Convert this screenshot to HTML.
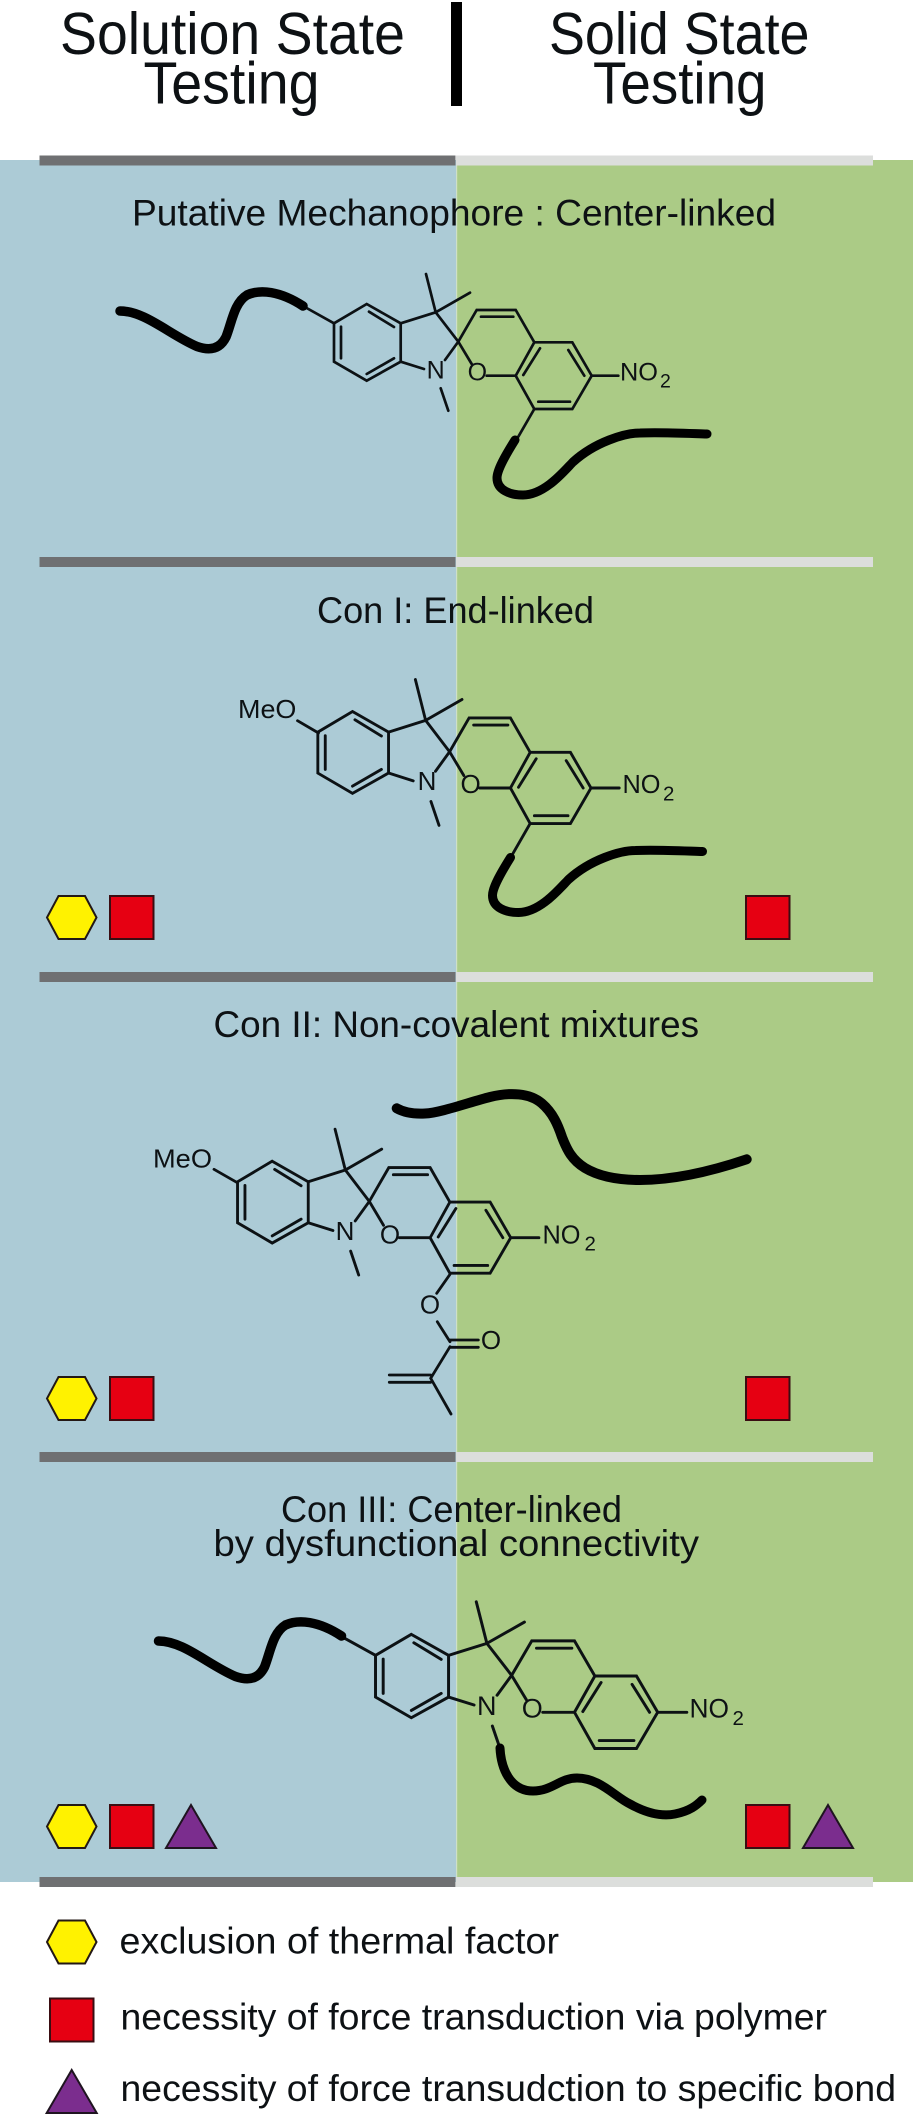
<!DOCTYPE html>
<html>
<head>
<meta charset="utf-8">
<style>
html,body{margin:0;padding:0;background:#fff}
svg{display:block}
text{font-family:"Liberation Sans",sans-serif;fill:#0d1114}
.t{font-size:59px}
.s{font-size:37px}
.a{font-size:25px}
.a2{font-size:26px}
.a3{font-size:27px}
.b{font-size:19.5px}
.b2{font-size:20.5px}
</style>
</head>
<body>
<svg width="913" height="2116" viewBox="0 0 913 2116" xmlns="http://www.w3.org/2000/svg">
<defs>
<g id="core" fill="none" stroke="#0c1114" stroke-width="2.7" stroke-linecap="round" stroke-linejoin="miter">
<path d="M366.7,304 L400.7,323.3 L400.7,361.7 L366.7,380.7 L334,361.7 L334,323.3 Z"/>
<path d="M369,311.7 L394,327 M394,358.3 L366.7,374 M341,326.7 L341,358.3"/>
<path d="M400.7,323.3 L435.7,312.3 L426,274 M435.7,312.3 L470,292.7 M435.7,312.3 L458.3,341.7 L445,360 M400.7,361.7 L424,369"/>
<path d="M458.3,341.7 L471.7,364 M458.3,341.7 L476.7,310 L515.7,310 L534.3,342.3 L572.3,342.3 L591.7,375.7 L572.3,409 L534.3,409 L515.7,375.7 L534.3,342.3"/>
<path d="M481,316.7 L513.3,316.7 M523.3,375 L540,348.3 M568.3,350 L584.3,375.7 M538.3,401.7 L570,401.7"/>
<path d="M486.7,375.7 L515.7,375.7 M591.7,375.7 L618.3,375.7 M440.7,388.3 L448.3,410.7"/>
</g>
<path id="bot" d="M534.3,409 L518.3,436.7" fill="none" stroke="#0c1114" stroke-width="2.7" stroke-linecap="round"/>
<path id="lef" d="M334,323.3 L303,306" fill="none" stroke="#0c1114" stroke-width="2.7" stroke-linecap="round"/>
<path id="p1" d="M120,311 C145,311 170,335 197,346.5 C210,351 220,349 226,337 C232,322 234,303 247,295 C260,289 280,291 303,306" fill="none" stroke="#000" stroke-width="9.5" stroke-linecap="round"/>
<path id="p2" d="M515,440 C505,456 497,470 497,478 C497,490 510,495 523,495 C545,495 565,470 573,462 C595,442 625,433 640,433 C660,432 690,433.5 707,434" fill="none" stroke="#000" stroke-width="9" stroke-linecap="round"/>
<polygon id="hex" points="47,21.5 58.5,0 85,0 96.5,21.5 85,43 58.5,43" fill="#fff200" stroke="#231815" stroke-width="2"/>
<rect id="sq" x="0" y="0" width="43.5" height="43" fill="#e60012" stroke="#3a0d12" stroke-width="2"/>
<polygon id="tri" points="25,0 50,43 0,43" fill="#7b2d8e" stroke="#1f1420" stroke-width="2"/>
</defs>

<rect x="0" y="160" width="456" height="1722" fill="#accbd6"/>
<rect x="456" y="160" width="457" height="1722" fill="#abcb86"/>
<rect x="456" y="160" width="1.2" height="1722" fill="#cfe0c8"/>

<rect x="451" y="2" width="11" height="104" fill="#000"/>

<g fill="#6f7072">
<rect x="39.5" y="155.5" width="416" height="10"/>
<rect x="39.5" y="557" width="416" height="10"/>
<rect x="39.5" y="972" width="416" height="10"/>
<rect x="39.5" y="1452" width="416" height="10"/>
<rect x="39.5" y="1877" width="416" height="10"/>
</g>
<g fill="#dcdedc">
<rect x="456" y="155.5" width="417" height="10"/>
<rect x="456" y="557" width="417" height="10"/>
<rect x="456" y="972" width="417" height="10"/>
<rect x="456" y="1452" width="417" height="10"/>
<rect x="456" y="1877" width="417" height="10"/>
</g>

<text class="t" x="60" y="54" textLength="345" lengthAdjust="spacingAndGlyphs">Solution State</text>
<text class="t" x="143.5" y="103.5" textLength="176" lengthAdjust="spacingAndGlyphs">Testing</text>
<text class="t" x="549" y="54" textLength="260.5" lengthAdjust="spacingAndGlyphs">Solid State</text>
<text class="t" x="593" y="103.5" textLength="173.5" lengthAdjust="spacingAndGlyphs">Testing</text>

<text class="s" x="132" y="225.5" textLength="644" lengthAdjust="spacingAndGlyphs">Putative Mechanophore : Center-linked</text>
<text class="s" x="317" y="623" textLength="277" lengthAdjust="spacingAndGlyphs">Con I: End-linked</text>
<text class="s" x="213.5" y="1037" textLength="485.5" lengthAdjust="spacingAndGlyphs">Con II: Non-covalent mixtures</text>
<text class="s" x="281" y="1522" textLength="341" lengthAdjust="spacingAndGlyphs">Con III: Center-linked</text>
<text class="s" x="213.5" y="1556" textLength="485.5" lengthAdjust="spacingAndGlyphs">by dysfunctional connectivity</text>

<!-- Molecule 1 -->
<use href="#core"/><use href="#bot"/><use href="#lef"/>
<text class="a" x="435.7" y="378.3" text-anchor="middle">N</text>
<text class="a" x="477.3" y="380.7" text-anchor="middle">O</text>
<text class="a" x="620" y="380.7" textLength="38" lengthAdjust="spacingAndGlyphs">NO</text>
<text class="b" x="660" y="387.3">2</text>
<use href="#p1"/><use href="#p2"/>

<!-- Molecule 2 -->
<g transform="translate(591,788) scale(1.06,1.067) translate(-591.7,-375.7)"><use href="#core"/><use href="#bot"/></g>
<path d="M297.5,720.7 L318.5,733" stroke="#0c1114" stroke-width="2.8" stroke-linecap="round"/>
<text class="a2" x="238" y="718" textLength="58.4" lengthAdjust="spacingAndGlyphs">MeO</text>
<text class="a2" x="427" y="790" text-anchor="middle">N</text>
<text class="a2" x="470.6" y="793" text-anchor="middle">O</text>
<text class="a2" x="622.5" y="793" textLength="38" lengthAdjust="spacingAndGlyphs">NO</text>
<text class="b2" x="663" y="800.5">2</text>
<use href="#p2" transform="translate(-4.5,417.5)"/>
<use href="#hex" x="0" y="896"/><use href="#sq" x="110" y="896"/><use href="#sq" x="746" y="896"/>

<!-- Molecule 3 -->
<g transform="translate(510.7,1237.7) scale(1.06,1.067) translate(-591.7,-375.7)"><use href="#core"/></g>
<g fill="none" stroke="#0c1114" stroke-width="2.8" stroke-linecap="round">
<path d="M214,1169.3 L236.7,1182.3"/>
<path d="M450,1274.3 L436.7,1293.3 M437.3,1321.7 L450,1341.7 M450,1346.7 L430.7,1378.3 L451,1414"/>
<path d="M450,1340 L478.3,1340 M450,1347.3 L478.3,1347.3 M389.3,1375 L430.7,1375 M389.3,1382.3 L430.7,1382.3"/>
</g>
<text class="a2" x="153" y="1167.3" textLength="59" lengthAdjust="spacingAndGlyphs">MeO</text>
<text class="a2" x="345" y="1240" text-anchor="middle">N</text>
<text class="a2" x="390" y="1243.3" text-anchor="middle">O</text>
<text class="a2" x="542.5" y="1243.3" textLength="38" lengthAdjust="spacingAndGlyphs">NO</text>
<text class="b2" x="584.5" y="1250.7">2</text>
<text class="a2" x="430" y="1313.3" text-anchor="middle">O</text>
<text class="a2" x="491" y="1349" text-anchor="middle">O</text>
<path fill="none" stroke="#000" stroke-width="10" stroke-linecap="round" d="M396.7,1108.3 C405,1113 415,1114 425,1113.5 C440,1113 470,1102 490,1097 C510,1092 530,1093 541.7,1103.3 C553,1113 558,1125 562,1137 C567,1150 572,1160 585,1168 C600,1177 620,1180 640,1180 C675,1180 715,1170 746.7,1159.3"/>
<use href="#hex" x="0" y="1377"/><use href="#sq" x="110" y="1377"/><use href="#sq" x="746" y="1377"/>

<!-- Molecule 4 -->
<g transform="translate(657.7,1712.3) scale(1.095,1.087) translate(-591.7,-375.7)"><use href="#core"/><use href="#lef"/></g>
<text class="a3" x="486.7" y="1715" text-anchor="middle">N</text>
<text class="a3" x="532.3" y="1717.3" text-anchor="middle">O</text>
<text class="a3" x="689.5" y="1717.3" textLength="39.5" lengthAdjust="spacingAndGlyphs">NO</text>
<text class="b2" x="732.5" y="1725">2</text>
<use href="#p1" transform="translate(38.5,1330)"/>
<path fill="none" stroke="#000" stroke-width="9" stroke-linecap="round" d="M500,1748 C501,1768 510,1791 533,1791 C552,1791 560,1778 577,1778 C600,1778 615,1797 630,1804 C650,1815 665,1816 675,1814 C690,1811 697,1805 702,1800"/>
<use href="#hex" x="0" y="1805"/><use href="#sq" x="110" y="1805"/><use href="#tri" x="166" y="1805"/>
<use href="#sq" x="746" y="1805"/><use href="#tri" x="803" y="1805"/>

<!-- Legend -->
<use href="#hex" x="0" y="1920.5"/>
<use href="#sq" x="50" y="1998.5"/>
<use href="#tri" x="46.7" y="2070"/>
<text class="s" x="119.5" y="1953.5" textLength="439.5" lengthAdjust="spacingAndGlyphs">exclusion of thermal factor</text>
<text class="s" x="120.5" y="2029.3" textLength="706.5" lengthAdjust="spacingAndGlyphs">necessity of force transduction via polymer</text>
<text class="s" x="120.5" y="2101" textLength="775.5" lengthAdjust="spacingAndGlyphs">necessity of force transudction to specific bond</text>
</svg>
</body>
</html>
